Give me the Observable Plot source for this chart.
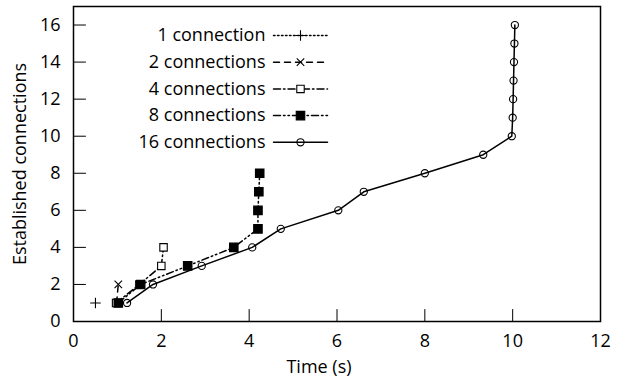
<!DOCTYPE html>
<html>
<head>
<meta charset="utf-8">
<script src="https://cdn.jsdelivr.net/npm/d3@7"></script>
<script src="https://cdn.jsdelivr.net/npm/@observablehq/plot@0.6"></script>
<style>
  html, body { margin: 0; padding: 0; background: #fff; }
  #chart svg { display: block; }
</style>
</head>
<body>
<div id="chart"></div>
<script>
// Data
const seriesNames = ["1 connection", "2 connections", "4 connections", "8 connections", "16 connections"];
const t1 = [0.5];
const c1 = [1];
const t2 = [0.98, 1.02];
const c2 = [1, 2];
const t4 = [0.97, 1.5, 2.0, 2.05];
const c4 = [1, 2, 3, 4];
const t8 = [1.02, 1.53, 2.6, 3.65, 4.2, 4.2, 4.22, 4.24];
const c8 = [1, 2, 3, 4, 5, 6, 7, 8];
const t16 = [1.22, 1.81, 2.92, 4.07, 4.72, 6.03, 6.61, 8.0, 9.33, 9.98, 10.0, 10.01, 10.02, 10.03, 10.04, 10.05];
const c16 = [1, 2, 3, 4, 5, 6, 7, 8, 9, 10, 11, 12, 13, 14, 15, 16];
const xTicks = [0, 2, 4, 6, 8, 10, 12];
const yTicks = [0, 2, 4, 6, 8, 10, 12, 14, 16];

const times = [t1, t2, t4, t8, t16];
const counts = [c1, c2, c4, c8, c16];
const styles = [
  {dash: "1.5,2.5", symbol: "plus", fill: "none", r: 3.5},
  {dash: "6,5", symbol: "times", fill: "none", r: 3.5},
  {dash: "7,3,1.5,3", symbol: "square", fill: "white", r: 4.2},
  {dash: "7,3,1.5,3,1.5,3", symbol: "square", fill: "black", r: 4.8},
  {dash: null, symbol: "circle", fill: "none", r: 3.6}
];

const tickShape = {draw(ctx, l) { ctx.moveTo(0, 0); ctx.lineTo(0, -l); }};

const marks = [];
times.forEach((ts, i) => {
  const data = ts.map((t, j) => ({t, c: counts[i][j]}));
  const s = styles[i];
  marks.push(Plot.line(data, {x: "t", y: "c", stroke: "black", strokeWidth: 1.5, strokeDasharray: s.dash}));
});
times.forEach((ts, i) => {
  const data = ts.map((t, j) => ({t, c: counts[i][j]}));
  const s = styles[i];
  marks.push(Plot.dot(data, {x: "t", y: "c", symbol: () => s.symbol, r: s.r, stroke: "black", strokeWidth: 1.1, fill: s.fill}));
});

// legend
seriesNames.forEach((name, i) => {
  const s = styles[i];
  const dy = 29 + i * 26.7;
  marks.push(Plot.text([name], {frameAnchor: "top-left", dx: 192, dy, text: d => d, textAnchor: "end", lineAnchor: "middle", fill: "black"}));
  marks.push(Plot.vector([name], {frameAnchor: "top-left", dx: 200, dy, rotate: 90, length: 54, anchor: "start", shape: tickShape, stroke: "black", strokeWidth: 1.5, strokeDasharray: s.dash}));
  marks.push(Plot.dot([name], {frameAnchor: "top-left", dx: 227, dy, symbol: () => s.symbol, r: s.r, stroke: "black", strokeWidth: 1.1, fill: s.fill}));
});

const chart = Plot.plot({
  width: 621,
  height: 381,
  marginLeft: 73,
  marginRight: 21,
  marginTop: 6,
  marginBottom: 60,
  style: {fontFamily: "'Open Sans'", fontSize: "18px", color: "black", background: "white"},
  x: {domain: [0, 12]},
  y: {domain: [0, 17]},
  marks: [
    Plot.axisX(xTicks, {tickSize: 0, tickPadding: 13, label: null, fontSize: 18}),
    Plot.axisY(yTicks, {tickSize: 0, tickPadding: 13, label: null, fontSize: 18}),
    Plot.vector(xTicks.slice(1, -1), {x: d => d, y: 0, length: 12, anchor: "start", shape: tickShape, stroke: "black", strokeWidth: 1}),
    Plot.vector(yTicks.slice(1), {x: 0, y: d => d, rotate: 90, length: 12, anchor: "start", shape: tickShape, stroke: "black", strokeWidth: 1}),
    Plot.text(["Time (s)"], {frameAnchor: "bottom", dx: -18, dy: 46, text: d => d, textAnchor: "middle", lineAnchor: "middle", fill: "black", fontSize: 18}),
    Plot.text(["Established connections"], {frameAnchor: "left", dx: -53, rotate: -90, text: d => d, textAnchor: "middle", lineAnchor: "middle", fill: "black", fontSize: 18}),
    ...marks,
    Plot.frame({stroke: "black", strokeWidth: 1.5})
  ]
});
document.getElementById("chart").appendChild(chart);
</script>
</body>
</html>
